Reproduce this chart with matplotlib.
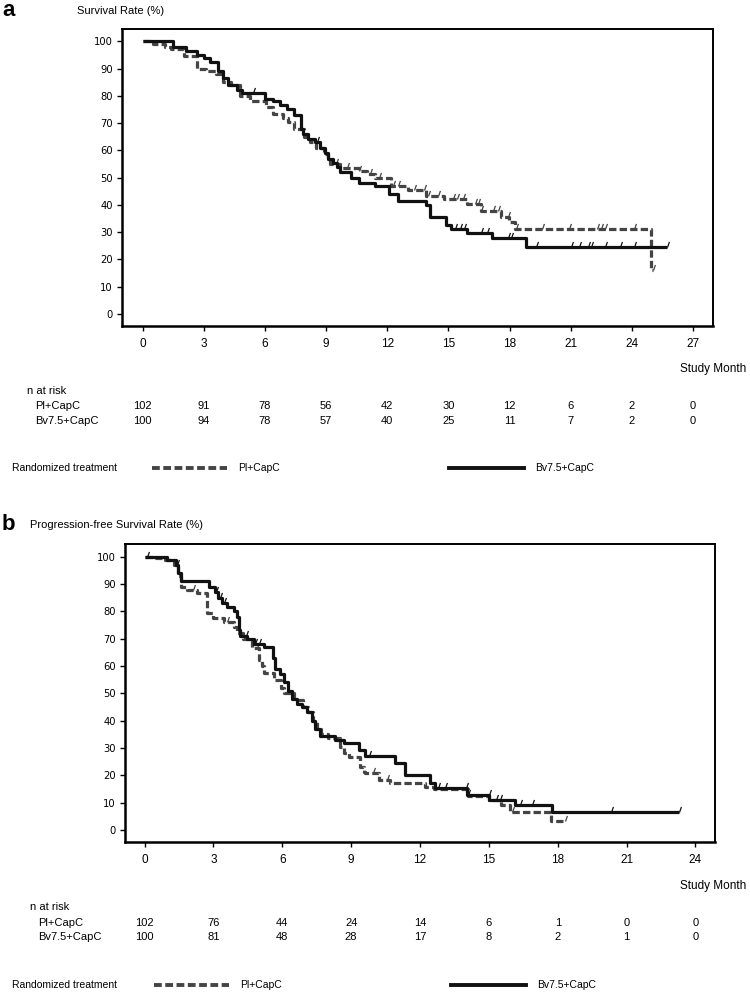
import numpy as np
import matplotlib
matplotlib.use("Agg")
import matplotlib.pyplot as plt
from matplotlib import font_manager
from matplotlib.path import Path
from matplotlib.transforms import blended_transform_factory

# ---- data ----
os_ticks = [0, 3, 6, 9, 12, 15, 18, 21, 24, 27]
os_pl_risk = [102, 91, 78, 56, 42, 30, 12, 6, 2, 0]
os_bv_risk = [100, 94, 78, 57, 40, 25, 11, 7, 2, 0]

pfs_ticks = [0, 3, 6, 9, 12, 15, 18, 21, 24]
pfs_pl_risk = [102, 76, 44, 24, 14, 6, 1, 0, 0]
pfs_bv_risk = [100, 81, 48, 28, 17, 8, 2, 1, 0]

y_ticks = [0, 10, 20, 30, 40, 50, 60, 70, 80, 90, 100]

# overall survival, Bv7.5+CapC (solid)
bv_os_t = [0, 1.5, 2.1, 2.65, 3.0, 3.3, 3.7, 3.95, 4.2, 4.6, 4.86, 6.0, 6.4, 6.74,
           7.06, 7.4, 7.75, 7.87, 8.1, 8.46, 8.7, 8.95, 9.1, 9.35, 9.52, 9.68, 10.2,
           10.6, 11.4, 12.1, 12.5, 13.9, 14.1, 14.9, 15.1, 15.9, 17.15, 18.8, 25.7]
bv_os_s = [100, 98, 96.5, 95, 94, 92.5, 89, 86.5, 84, 82, 81, 79, 78, 76.5,
           75, 73, 68, 66, 64, 63, 61, 59, 57, 55.5, 54, 52, 50,
           48, 47, 44, 41.5, 40, 35.6, 32.6, 31, 29.6, 27.7, 24.6, 24.6]
bv_os_cens = [5.4, 8.55, 15.3, 15.55, 15.75, 16.6, 16.9, 17.9, 18.05, 19.3, 21.0,
              21.4, 21.85, 22.0, 22.7, 23.4, 24.1, 25.7]

# overall survival, Pl+CapC (dashed)
pl_os_t = [0, 0.5, 1.1, 1.4, 2.0, 2.65, 3.1, 3.6, 3.95, 4.35, 4.75, 5.25, 6.05, 6.4,
           6.9, 7.15, 7.4, 7.9, 8.2, 8.5, 8.9, 9.1, 9.2, 9.7, 10.6, 11.0, 11.4, 12.2,
           13.0, 13.9, 14.8, 15.9, 16.6, 17.6, 17.95, 18.25, 24.95, 25.05]
pl_os_s = [100, 99, 98, 97, 94.5, 90, 89, 88, 85, 84, 80, 78, 76, 73.5,
           72, 70.5, 68, 65, 63, 61, 58.8, 56.7, 55, 53.5, 52.5, 51.5, 49.7, 47,
           45.3, 43.4, 42, 40.2, 37.8, 35.6, 33.8, 31, 16, 16]
pl_os_cens = [9.5, 10.0, 10.6, 11.15, 11.6, 12.3, 12.5, 13.3, 13.8, 14.0, 14.5, 15.2,
              15.4, 15.7, 16.3, 16.45, 16.6, 17.2, 17.45, 17.9, 18.3, 19.6, 20.9,
              22.3, 22.5, 22.7, 24.1, 25.05]

# progression-free survival, Bv7.5+CapC (solid)
bv_pfs_t = [0, 1.0, 1.35, 1.46, 1.57, 2.8, 3.09, 3.2, 3.38, 3.6, 3.88, 4.03, 4.1,
            4.17, 4.46, 4.75, 5.19, 5.6, 5.7, 5.91, 6.06, 6.27, 6.42, 6.64, 6.86,
            7.07, 7.29, 7.43, 7.65, 8.3, 8.67, 9.35, 9.6, 10.9, 11.35, 12.45, 12.65,
            14.05, 15.02, 16.15, 17.75, 23.3]
bv_pfs_s = [100, 98.8, 97, 94, 91, 89, 87, 85, 83, 81.5, 80, 78, 73,
            71, 70, 68, 67, 63, 59, 57, 54, 51, 48, 46, 45,
            43, 40, 37, 34.2, 33, 31.7, 29.3, 27, 24.4, 20.1, 17.1, 15.3,
            12.8, 11.0, 9.1, 6.4, 6.4]
bv_pfs_cens = [0.1, 1.4, 3.1, 3.3, 3.45, 4.4, 4.8, 5.0, 9.8, 12.8, 13.1, 14.0, 14.1,
               15.0, 15.3, 15.5, 16.35, 16.9, 20.3, 23.3]

# progression-free survival, Pl+CapC (dashed)
pl_pfs_t = [0, 0.48, 0.9, 1.27, 1.45, 1.57, 1.86, 2.29, 2.73, 3.0, 3.45, 3.9, 4.03,
            4.3, 4.68, 4.97, 5.1, 5.19, 5.62, 5.95, 6.06, 6.49, 6.9, 7.1, 7.35, 7.5,
            7.7, 8.0, 8.5, 8.7, 8.9, 9.4, 9.55, 9.6, 10.2, 10.7, 12.2, 12.6, 14.1,
            15.0, 15.55, 15.9, 17.7, 18.3]
pl_pfs_s = [100, 99.5, 98.8, 97, 93, 89, 87.8, 86.8, 79.3, 77.5, 76.2, 74.4, 72,
            70, 66.5, 62.2, 59.8, 57.3, 54.9, 52, 50, 47.6, 45, 43, 40, 37,
            35, 33.5, 30.5, 28, 26.8, 23.2, 21.3, 20.7, 18.3, 17.3, 15.6, 15.0, 12.5,
            11.0, 9.1, 6.6, 3.4, 3.4]
pl_pfs_cens = [2.1, 3.6, 4.9, 9.96, 10.55, 12.6, 16.0, 18.3]

# ---- fonts ----
names = {f.name for f in font_manager.fontManager.ttflist}
narrow = "Liberation Sans" if "Liberation Sans" in names else "DejaVu Sans"
round_font = "DejaVu Sans"
bold_font = narrow
FS = 8

W, H = 750, 993
fig = plt.figure(figsize=(W / 100, H / 100), dpi=100)

tick_path = Path([[0, 0], [0.35, 1]])
SOLID = "#111111"
DASH = "#444444"


def px(x, y):
    return x / W, 1 - y / H


def step_value(t, s, x):
    i = np.searchsorted(t, x, side="right") - 1
    return np.asarray(s)[np.clip(i, 0, len(s) - 1)]


def km_panel(rect, xlim, ylim, ticks, curves):
    ax = fig.add_axes(rect)
    for t, s, cens, color, dashed in curves:
        line, = ax.step(t, s, color=color, lw=2.3, where="post", solid_capstyle="butt")
        if dashed:
            line.set_dashes((2.3, 1.0))
        cy = step_value(t, s, cens)
        ax.plot(cens, cy, linestyle="none", marker=tick_path, ms=8, mew=0.9,
                color=color, fillstyle="none")
    ax.set_xlim(*xlim)
    ax.set_ylim(*ylim)
    ax.set_xticks(ticks)
    ax.set_yticks(y_ticks)
    ax.tick_params(axis="both", direction="out", length=3.5, width=1)
    ax.tick_params(axis="x", labelsize=FS + 0.5, pad=5)
    ax.tick_params(axis="y", labelsize=7.2, pad=3)
    for lab in ax.get_xticklabels():
        lab.set_family(narrow)
    for lab in ax.get_yticklabels():
        lab.set_family(round_font)
    for side in ["left", "bottom"]:
        ax.spines[side].set_linewidth(1.8)
    for side in ["top", "right"]:
        ax.spines[side].set_linewidth(1.4)
    return ax


def risk_table(ax, ticks, pl_risk, bv_risk, x_lab, y_month, y_head, y_pl, y_bv):
    tr = blended_transform_factory(ax.transData, fig.transFigure)
    fig.text(*px(746, y_month), "Study Month", ha="right", va="center",
             family=narrow, fontsize=FS + 0.5)
    fig.text(*px(x_lab - 8, y_head), "n at risk", ha="left", va="center",
             family=narrow, fontsize=FS)
    fig.text(*px(x_lab, y_pl), "Pl+CapC", ha="left", va="center",
             family=narrow, fontsize=FS)
    fig.text(*px(x_lab, y_bv), "Bv7.5+CapC", ha="left", va="center",
             family=narrow, fontsize=FS)
    for m, a, b in zip(ticks, pl_risk, bv_risk):
        ax.text(m, 1 - y_pl / H, str(a), transform=tr, ha="center", va="center",
                family=narrow, fontsize=FS)
        ax.text(m, 1 - y_bv / H, str(b), transform=tr, ha="center", va="center",
                family=narrow, fontsize=FS)


def legend_row(y, x0):
    fig.text(*px(12, y), "Randomized treatment", ha="left", va="center",
             family=narrow, fontsize=FS - 0.5)
    ln = plt.Line2D([x0 / W, (x0 + 75) / W], [1 - y / H] * 2, transform=fig.transFigure,
                    color=DASH, lw=2.8)
    ln.set_dashes((2.0, 0.9))
    fig.add_artist(ln)
    fig.text(*px(x0 + 86, y), "Pl+CapC", ha="left", va="center", family=narrow,
             fontsize=FS - 0.5)
    fig.add_artist(plt.Line2D([(x0 + 297) / W, (x0 + 372) / W], [1 - y / H] * 2,
                              transform=fig.transFigure, color=SOLID, lw=2.8))
    fig.text(*px(x0 + 383, y), "Bv7.5+CapC", ha="left", va="center", family=narrow,
             fontsize=FS - 0.5)


# ---- panel a: overall survival ----
ax_a = km_panel([122 / W, 1 - 325.7 / H, (713 - 122) / W, (325.7 - 29.3) / H],
                (-1.02, 27.98), (-4.3, 104.4), os_ticks,
                [(pl_os_t, pl_os_s, pl_os_cens, DASH, True),
                 (bv_os_t, bv_os_s, bv_os_cens, SOLID, False)])
fig.text(*px(2, 11), "a", ha="left", va="center", family=bold_font,
         fontsize=16, fontweight="bold")
fig.text(*px(77, 11), "Survival Rate (%)", ha="left", va="center",
         family=narrow, fontsize=FS)
risk_table(ax_a, os_ticks, os_pl_risk, os_bv_risk, 35, 369, 391, 406, 421)
legend_row(468, 152)

# ---- panel b: progression-free survival ----
ax_b = km_panel([125 / W, 1 - 842.3 / H, (715 - 125) / W, (842.3 - 544) / H],
                (-0.85, 24.85), (-4.5, 104.6), pfs_ticks,
                [(pl_pfs_t, pl_pfs_s, pl_pfs_cens, DASH, True),
                 (bv_pfs_t, bv_pfs_s, bv_pfs_cens, SOLID, False)])
fig.text(*px(2, 524), "b", ha="left", va="center", family=bold_font,
         fontsize=16, fontweight="bold")
fig.text(*px(30, 525), "Progression-free Survival Rate (%)", ha="left", va="center",
         family=narrow, fontsize=FS)
risk_table(ax_b, pfs_ticks, pfs_pl_risk, pfs_bv_risk, 38, 886, 907, 922.7, 937)
legend_row(985, 154)

fig.savefig("out.png", dpi=100)
